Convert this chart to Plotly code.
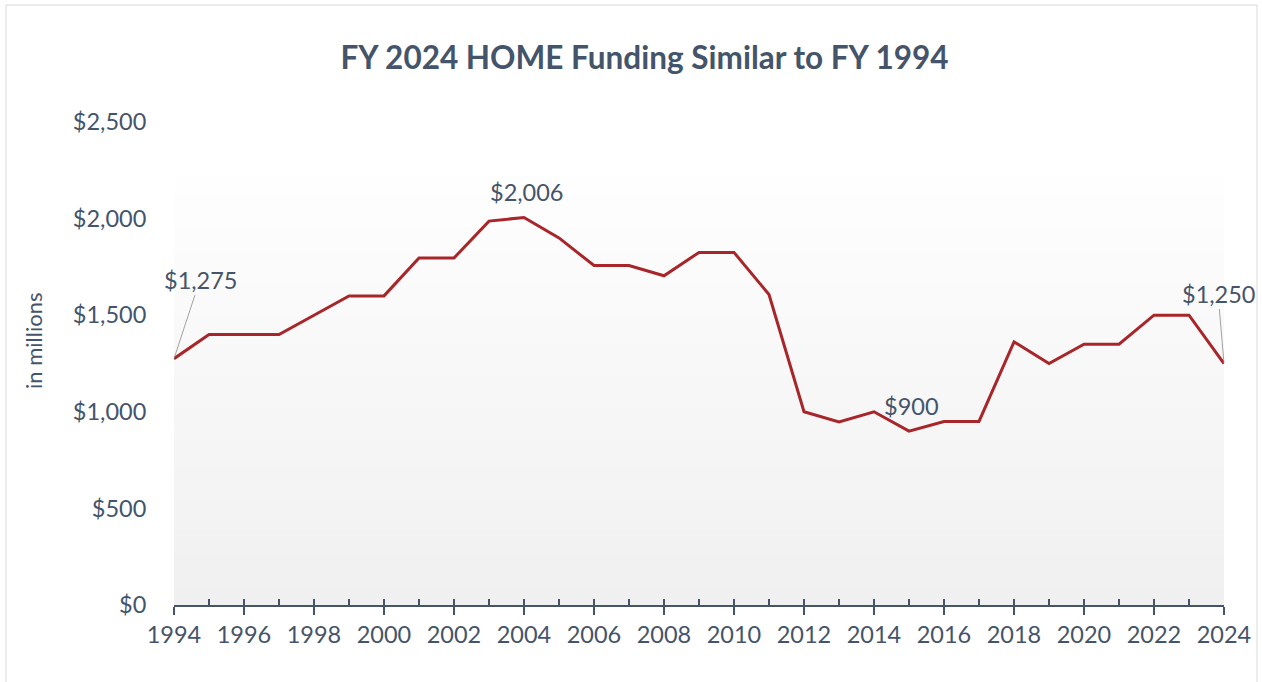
import plotly.graph_objects as go

years = list(range(1994, 2025))
funding = [1275, 1400, 1400, 1400, 1500, 1600, 1600, 1796, 1796, 1987, 2006,
           1900, 1757, 1757, 1704, 1825, 1825, 1607, 1000, 948, 1000,
           900, 950, 950, 1362, 1250, 1350, 1350, 1500, 1500, 1250]
y_ticks = [0, 500, 1000, 1500, 2000, 2500]
y_tick_labels = ["$0", "$500", "$1,000", "$1,500", "$2,000", "$2,500"]
title_text = "FY 2024 HOME Funding Similar to FY 1994"
y_title = "in millions"

TEXT = "#44546a"
LINE = "#a8262a"
FONT = "Lato"
FS = 23.5

W, H = 1262, 682
L, R, T, B = 174, 38, 122, 77
plot_h = H - T - B
plot_w = W - L - R

fig = go.Figure()
fig.add_trace(go.Scatter(x=years, y=funding, mode="lines",
                         line=dict(color=LINE, width=3), showlegend=False,
                         hovertemplate="%{x}: $%{y:,}<extra></extra>"))
# invisible trace for overlay tick axis
fig.add_trace(go.Scatter(x=[years[0], years[-1]], y=[0, 0], xaxis="x2",
                         mode="lines", line=dict(width=0), showlegend=False,
                         hoverinfo="skip"))

shapes = []
# gradient background of plot area
grad_top = (605 - 178) / plot_h
n = 80
c_top = (254, 254, 254)
c_bot = (240, 240, 240)
for i in range(n):
    f0 = i / n
    f1 = (i + 1) / n
    t = (i + 0.5) / n
    c = tuple(round(c_bot[k] + (c_top[k] - c_bot[k]) * t) for k in range(3))
    shapes.append(dict(type="rect", xref="paper", yref="paper",
                       x0=0, x1=1, y0=grad_top * f0, y1=grad_top * f1 + 0.001,
                       fillcolor="rgb(%d,%d,%d)" % c, line=dict(width=0),
                       layer="below"))
# outer border
shapes.append(dict(type="rect", xref="paper", yref="paper",
                   x0=(6 - L) / plot_w, x1=(1257 - L) / plot_w,
                   y0=(605 - 700) / plot_h, y1=(605 - 5) / plot_h,
                   line=dict(color="#d9d9d9", width=1), fillcolor="rgba(0,0,0,0)",
                   layer="below"))

ann_font = dict(family=FONT, size=FS, color=TEXT)
annotations = [
    dict(x=years[0], y=funding[0], xref="x", yref="y", text="$1,275",
         showarrow=True, arrowhead=0, arrowwidth=0.8, arrowcolor="#8c8c8c",
         ax=26, ay=-79, standoff=0, font=ann_font),
    dict(x=2004, y=funding[years.index(2004)], xref="x", yref="y", text="$2,006",
         showarrow=False, xshift=2, yshift=25, font=ann_font),
    dict(x=2015, y=funding[years.index(2015)], xref="x", yref="y", text="$900",
         showarrow=False, xshift=2, yshift=25, font=ann_font),
    dict(x=years[-1], y=funding[-1], xref="x", yref="y", text="$1,250",
         showarrow=True, arrowhead=0, arrowwidth=0.8, arrowcolor="#8c8c8c",
         ax=-6, ay=-70, standoff=0, font=ann_font),
    dict(x=(33 - L) / plot_w, y=(605 - 341) / plot_h, xref="paper", yref="paper",
         text=y_title, showarrow=False, textangle=-90, xanchor="center",
         yanchor="middle", font=dict(family=FONT, size=22, color=TEXT)),
]

fig.update_layout(
    width=W, height=H,
    margin=dict(l=L, r=R, t=T, b=B),
    paper_bgcolor="white", plot_bgcolor="rgba(0,0,0,0)",
    font=dict(family=FONT, color=TEXT),
    title=dict(text="<b>" + title_text + "</b>", x=644.5 / W, xanchor="center",
               y=1 - 58 / H, yanchor="middle", xref="container", yref="container",
               font=dict(family=FONT, size=31.5, color=TEXT)),
    xaxis=dict(range=[1994, 2024], tickmode="linear", tick0=1994, dtick=2,
               ticks="outside", ticklen=8, tickwidth=2, tickcolor=TEXT,
               showline=True, linecolor=TEXT, linewidth=2, showgrid=False,
               zeroline=False, tickfont=dict(family=FONT, size=FS, color=TEXT),
               fixedrange=True),
    xaxis2=dict(range=[1994, 2024], overlaying="x", anchor="y", side="bottom",
                tickmode="linear", tick0=1994, dtick=1, ticks="inside",
                ticklen=6, tickwidth=2, tickcolor=TEXT, showticklabels=False,
                showline=False, showgrid=False, zeroline=False),
    yaxis=dict(range=[0, 2500], tickmode="array", tickvals=y_ticks,
               ticktext=y_tick_labels, showgrid=False, zeroline=False,
               showline=False, ticks="outside", ticklen=22, tickcolor="rgba(0,0,0,0)",
               tickfont=dict(family=FONT, size=FS, color=TEXT)),
    shapes=shapes,
    annotations=annotations,
)

fig.write_html("out.html", config={"displayModeBar": False},
               post_script="document.body.style.margin='0';"
                           "document.body.style.overflow='hidden';")
